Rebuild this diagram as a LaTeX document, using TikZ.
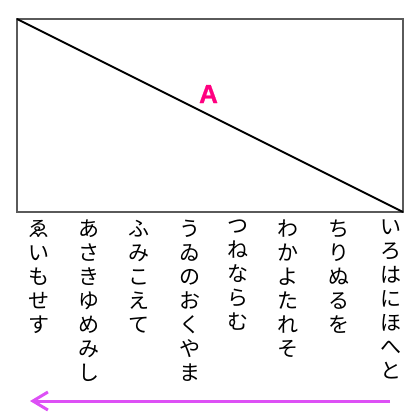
\documentclass[tikz,border=0pt]{standalone}
\usepackage{fontspec}
\setmainfont{Liberation Sans}
\newfontfamily\jpfont{Noto Sans CJK JP}
\newfontfamily\lblfont[FakeBold=1]{Liberation Sans Bold}
\usetikzlibrary{arrows.meta}
\definecolor{boxgray}{RGB}{90,90,90}
\definecolor{labelpink}{RGB}{255,0,128}
\definecolor{arrowviolet}{RGB}{221,80,245}
\tikzset{
  frame/.style={draw=boxgray, line width=1.2pt},
  diag/.style={draw=black, line width=2pt},
  lbl/.style={text=labelpink, font=\lblfont\fontsize{26}{28}\selectfont, inner sep=0pt},
  vcol/.style={anchor=north, align=center, inner sep=0pt, font=\jpfont\fontsize{21}{24}\selectfont},
  flow/.style={draw=arrowviolet, line width=3pt, -{Straight Barb[length=15pt,width=18pt,line width=3pt]}},
}
\begin{document}
\begin{tikzpicture}[x=1pt,y=-1pt]
\useasboundingbox (0,0) rectangle (420,420);
\coordinate (tl) at (17,19);
\coordinate (br) at (403,212);
\draw[frame] (tl) rectangle (br);
\draw[diag] (tl) -- (br);
\node[lbl, anchor=base] (a) at (208.5,103) {A};
\node[vcol] (c1) at (391,220) {い\\ろ\\は\\に\\ほ\\へ\\と};
\node[vcol] (c2) at (339,220) {ち\\り\\ぬ\\る\\を};
\node[vcol] (c3) at (288,220) {わ\\か\\よ\\た\\れ\\そ};
\node[vcol] (c4) at (238,220) {つ\\ね\\な\\ら\\む};
\node[vcol] (c5) at (190,220) {う\\ゐ\\の\\お\\く\\や\\ま};
\node[vcol] (c6) at (139,220) {ふ\\み\\こ\\え\\て};
\node[vcol] (c7) at (89,220) {あ\\さ\\き\\ゆ\\め\\み\\し};
\node[vcol] (c8) at (39,220) {ゑ\\い\\も\\せ\\す};
\coordinate (fs) at (390,401);
\coordinate (fe) at (30,401);
\draw[flow] (fs) -- (fe);
\end{tikzpicture}
\end{document}
